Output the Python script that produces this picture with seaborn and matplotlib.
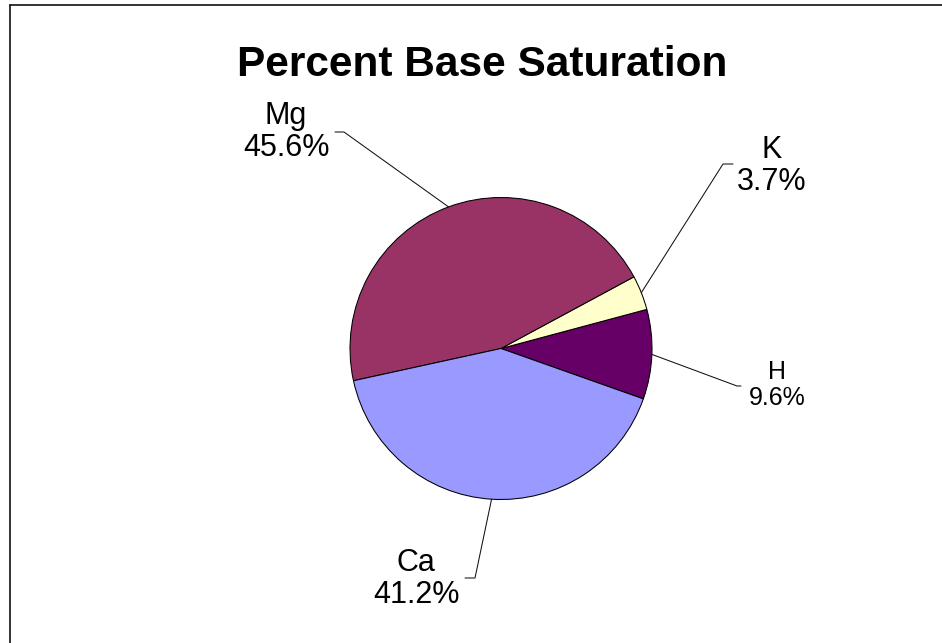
import numpy as np
import matplotlib
matplotlib.use("Agg")
import matplotlib.pyplot as plt
import seaborn as sns
from matplotlib.lines import Line2D

# ---- data ----
categories = ["H", "K", "Mg", "Ca"]
values = [9.6, 3.7, 45.6, 41.2]
pct_labels = ["9.6%", "3.7%", "45.6%", "41.2%"]
colors = ["#660066", "#FFFFCC", "#993366", "#9999FF"]
title = "Percent Base Saturation"

sns.set_theme(style="white")
plt.rcParams["font.family"] = ["Liberation Sans", "DejaVu Sans"]

W, H = 942, 643
fig = plt.figure(figsize=(W / 100, H / 100), dpi=100)
ax = fig.add_axes([0, 0, 1, 1])

def Y(y):
    return H - y

cx, cy, r = 501, 348.5, 151
wedges, _ = ax.pie(values, colors=colors, startangle=-19.5, center=(cx, Y(cy)),
                   radius=r, wedgeprops=dict(edgecolor="black", linewidth=0.75),
                   frame=True)
ax.set_xlim(0, W)
ax.set_ylim(0, H)
ax.set_aspect("equal")
ax.axis("off")

# label layout (pixel coords): text center, elbow start, elbow end, font size
layout = {
    "Mg": dict(pos=(286, 132), elbow=((335, 132), (344, 132)), fs=22),
    "K":  dict(pos=(772, 166), elbow=((733, 164), (723, 164)), fs=22),
    "H":  dict(pos=(777, 385), elbow=((741, 386), (737, 386)), fs=18),
    "Ca": dict(pos=(416, 579), elbow=((465, 578), (475, 578)), fs=22),
}

for w, cat, pl in zip(wedges, categories, pct_labels):
    mid = np.deg2rad((w.theta1 + w.theta2) / 2)
    ex, ey = cx + r * np.cos(mid), Y(cy) + r * np.sin(mid)
    L = layout[cat]
    (x0, y0), (x1, y1) = L["elbow"]
    ax.add_line(Line2D([x0, x1, ex], [Y(y0), Y(y1), ey], color="#111111", lw=0.75))
    ax.text(L["pos"][0], Y(L["pos"][1]), f"{cat}\n{pl}", ha="center", va="center",
            fontsize=L["fs"], linespacing=1.1, color="black")

ax.text(482.5, Y(65), title, ha="center", va="center", fontsize=30.5,
        fontweight="bold", color="black")

# chart-area border (left and top visible)
fig.add_artist(Line2D([9.5 / W, 9.5 / W], [0, 1 - 5 / H], transform=fig.transFigure,
                      color="#111111", lw=1.2))
fig.add_artist(Line2D([9.5 / W, 1], [1 - 5 / H, 1 - 5 / H], transform=fig.transFigure,
                      color="#111111", lw=1.2))

fig.savefig("out.png", dpi=100, facecolor="white")
